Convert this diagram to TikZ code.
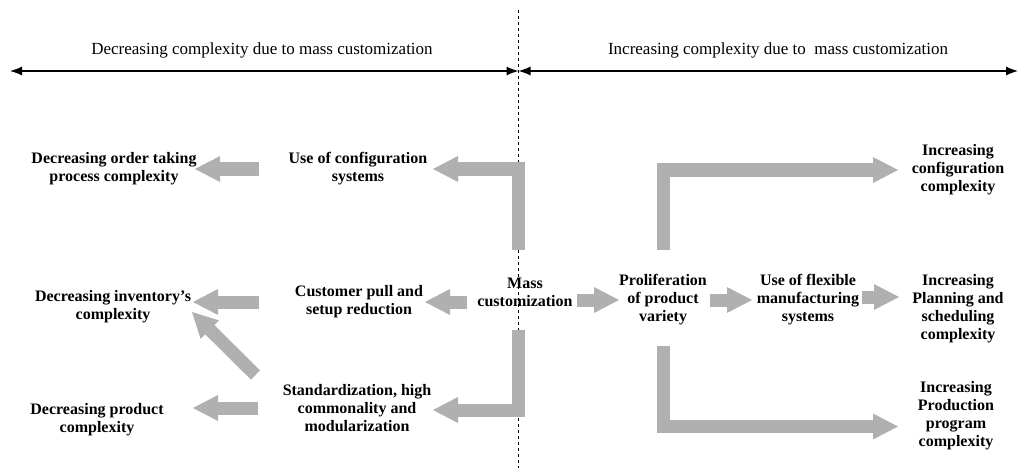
\documentclass[tikz,border=0pt]{standalone}
\usepackage{fontspec}
\setmainfont{Liberation Serif}
\usetikzlibrary{arrows.meta}
\definecolor{arrowgray}{HTML}{B0B0B0}

\begin{document}
\begin{tikzpicture}[
        x=1pt, y=-1pt,
        font=\fontsize{16}{18}\selectfont\bfseries,
        box/.style={align=center, inner sep=0pt},
        banner/.style={font=\fontsize{17}{20}\selectfont\mdseries},
        blk/.style={draw=arrowgray, line width=13pt, -{Triangle[width=26pt, length=25pt, line width=0pt]}},
        span/.style={{Latex[length=12pt, width=9pt]}-{Latex[length=12pt, width=9pt]}, line width=1.2pt},
    ]
    \useasboundingbox (0,0) rectangle (1020,468);

    % dashed divider
    \coordinate (divtop) at (518.5,10);
    \coordinate (divbot) at (518.5,468);
    \draw[dashed, line width=0.8pt] (divtop) -- (divbot);

    % top spans
    \coordinate (leftend) at (10,71);
    \coordinate (rightend) at (1018,71);
    \coordinate (mid) at (divtop |- leftend);
    \draw[span] (leftend) -- (mid);
    \draw[span] (mid) -- (rightend);
    \node[banner] (declabel) at (262,50) {Decreasing complexity due to mass customization};
    \node[banner] (inclabel) at (778,50) {Increasing complexity due to\ \ mass customization};

    % left side
    \node[box] (order)  at (114,169) {Decreasing order taking\\process complexity};
    \node[box] (cfgsys) at (358,169) {Use of configuration\\systems};
    \node[box] (inv)    at (113,307) {Decreasing inventory’s\\complexity};
    \node[box] (pull)   at (359,302) {Customer pull and\\setup reduction};
    \node[box] (std)    at (357,408) {Standardization, high\\commonality and\\modularization};
    \node[box] (prod)   at (97,420)  {Decreasing product\\complexity};

    % centre
    \node[box] (mass)   at (525,292) {Mass\\customization};

    % right side
    \node[box] (prolif) at (663,300) {Proliferation\\of product\\variety};
    \node[box] (flex)   at (808,300) {Use of flexible\\manufacturing\\systems};
    \node[box] (cfgcx)  at (958,170) {Increasing\\configuration\\complexity};
    \node[box] (plan)   at (958,309) {Increasing\\Planning and\\scheduling\\complexity};
    \node[box] (prodcx) at (956,416) {Increasing\\Production\\program\\complexity};

    % block arrows, left
    \draw[blk, shorten <=99pt, shorten >=81pt] (cfgsys.center) -- (cfgsys.center -| order.center);
    \draw[blk, shorten <=100pt, shorten >=80pt] (pull.center) -- (pull.center -| inv.center);
    \draw[blk, shorten <=99pt, shorten >=96pt] (std.center) -- (std.center -| prod.center);
    \draw[blk] ([shift={(-101.5,-33)}]std.center) -- ([shift={(79,5)}]inv.center);

    % block arrows from the centre
    \draw[blk, shorten <=42pt, shorten >=75pt] (mass.center -| divtop) |- (cfgsys.center);
    \draw[blk, shorten <=38pt, shorten >=76pt] (mass.center -| divtop) |- ([yshift=-2pt]std.center);
    \draw[blk, shorten <=58pt, shorten >=66pt] (mass.center |- pull.center) -- (pull.center);
    \draw[blk, shorten <=52pt, shorten >=44pt] (mass.center |- prolif.center) -- (prolif.center);

    % block arrows, right
    \draw[blk, shorten <=47pt, shorten >=56pt] (prolif.center) -- (flex.center);
    \draw[blk, shorten <=54pt, shorten >=59pt] ([yshift=3pt]flex.center) -- ([yshift=3pt]flex.center -| plan.center);
    \draw[blk, shorten <=50pt, shorten >=60pt] (prolif.center) |- (cfgcx.center);
    \draw[blk, shorten <=46pt, shorten >=58pt] (prolif.center) |- ([yshift=-10.5pt]prodcx.center);

\end{tikzpicture}
\end{document}
